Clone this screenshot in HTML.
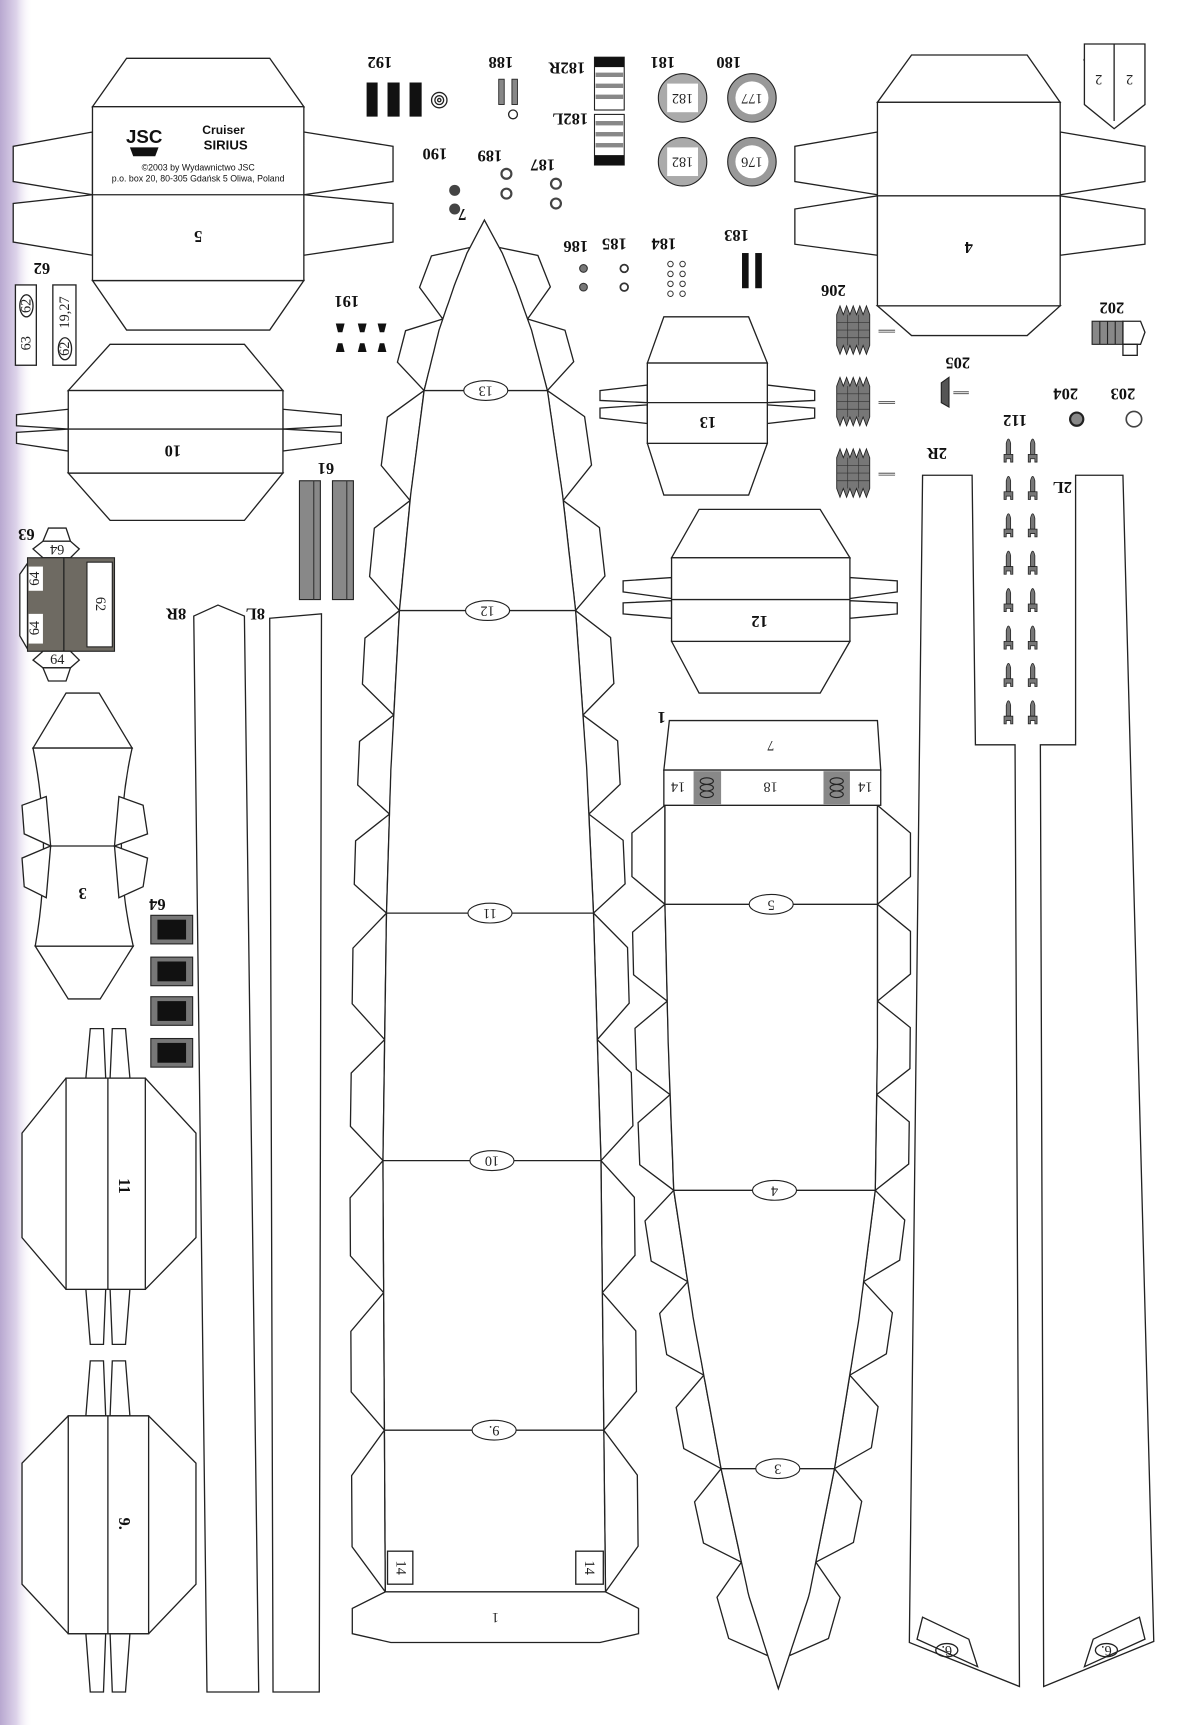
<!DOCTYPE html>
<html><head><meta charset="utf-8">
<style>
html,body{margin:0;padding:0;background:#fff;}
svg{display:block;}
.l{fill:none;stroke:#222;stroke-width:1.2;}
.w{fill:#fff;stroke:#222;stroke-width:1.2;}
.t{font-family:"Liberation Serif",serif;font-weight:bold;font-size:15px;fill:#111;text-anchor:middle;dominant-baseline:central;}
.n{font-family:"Liberation Serif",serif;font-size:13px;fill:#222;text-anchor:middle;dominant-baseline:central;}
.s{font-family:"Liberation Sans",sans-serif;fill:#111;text-anchor:middle;}
</style></head>
<body>
<svg id="sv" width="1200" height="1725" viewBox="0 0 1090 1568" preserveAspectRatio="none" xmlns="http://www.w3.org/2000/svg">
<defs>
<linearGradient id="edge" x1="0" x2="1" y1="0" y2="0">
<stop offset="0" stop-color="#b8a8d0"/><stop offset="0.5" stop-color="#ddd3ea"/><stop offset="1" stop-color="#fff" stop-opacity="0"/>
</linearGradient>
</defs>
<rect x="0" y="0" width="1090" height="1568" fill="#fff"/>
<rect x="0" y="0" width="30" height="1568" fill="url(#edge)"/>

<!-- Part 5 -->
<polygon class="w" points="84,97 115,53 245,53 276,97"/>
<polygon class="w" points="84,255 115,300 245,300 276,255"/>
<polygon class="w" points="84,120 12,133 12,165 84,177"/>
<polygon class="w" points="84,177 12,185 12,220 84,232"/>
<polygon class="w" points="276,120 357,133 357,165 276,177"/>
<polygon class="w" points="276,177 357,185 357,220 276,232"/>
<rect class="w" x="84" y="97" width="192" height="158"/>
<line class="l" x1="84" y1="177" x2="276" y2="177"/>
<text class="s" x="131" y="130" font-size="17" font-weight="bold">JSC</text>
<path d="M118,134 h26 l-3,8 h-20 z" fill="#111"/>
<text class="s" x="203" y="122" font-size="11" font-weight="bold">Cruiser</text>
<text class="s" x="205" y="136" font-size="12" font-weight="bold">SIRIUS</text>
<text class="s" x="180" y="155" font-size="8">©2003 by Wydawnictwo JSC</text>
<text class="s" x="180" y="165" font-size="8">p.o. box 20, 80-305 Gdańsk 5 Oliwa, Poland</text>
<text class="t" transform="translate(180,215) rotate(180)">5</text>

<!-- Part 10 -->
<polygon class="w" points="62,355 100,313 222,313 257,355"/>
<polygon class="w" points="62,430 100,473 222,473 257,430"/>
<polygon class="w" points="62,372 15,377 15,387 62,390"/>
<polygon class="w" points="62,390 15,393 15,403 62,410"/>
<polygon class="w" points="257,372 310,377 310,387 257,390"/>
<polygon class="w" points="257,390 310,393 310,403 257,410"/>
<rect class="w" x="62" y="355" width="195" height="75"/>
<line class="l" x1="62" y1="390" x2="257" y2="390"/>
<text class="t" transform="translate(157,410) rotate(180)">10</text>

<!-- 62 labels -->
<text class="t" transform="translate(38,244) rotate(180)">62</text>
<rect class="w" x="14" y="259" width="19" height="73"/>
<text class="n" transform="translate(24,312) rotate(-90)">63</text>
<ellipse class="l" cx="24" cy="278" rx="6" ry="10"/>
<text class="n" transform="translate(24,278) rotate(-90)" font-size="11">62</text>
<rect class="w" x="48" y="259" width="21" height="73"/>
<text class="n" transform="translate(59,284) rotate(-90)">19,27</text>
<ellipse class="l" cx="59" cy="317" rx="6" ry="10"/>
<text class="n" transform="translate(59,317) rotate(-90)" font-size="11">62</text>

<!-- 63/64 block -->
<text class="t" transform="translate(24,486) rotate(180)">63</text>
<polygon class="w" points="39,492 44,480 60,480 64,492"/>
<polygon class="w" points="39,492 30,499 39,507 64,507 72,499 64,492"/>
<text class="n" transform="translate(52,499) rotate(180)">64</text>
<polygon class="w" points="25,512 18,522 18,578 25,590"/>
<rect x="25" y="507" width="79" height="85" fill="#6e6a62" stroke="#222"/>
<rect x="26" y="515" width="13" height="22" fill="#fff"/>
<rect x="26" y="558" width="13" height="27" fill="#fff"/>
<text class="n" transform="translate(32,526) rotate(-90)" font-size="11">64</text>
<text class="n" transform="translate(32,571) rotate(-90)" font-size="11">64</text>
<line class="l" x1="58" y1="507" x2="58" y2="592"/>
<rect x="79" y="511" width="23" height="77" fill="#fff" stroke="#222"/>
<text class="n" transform="translate(91,549) rotate(90)">62</text>
<polygon class="w" points="39,592 30,600 39,607 64,607 72,600 64,592"/>
<polygon class="w" points="39,607 44,619 60,619 64,607"/>
<text class="n" x="52" y="600">64</text>

<!-- Part 3 -->
<polygon class="w" points="30,680 60,630 90,630 120,680"/>
<polygon class="w" points="32,860 62,908 91,908 121,860"/>
<path class="w" d="M30,680 Q48,770 32,860 L121,860 Q100,770 120,680 Z"/>
<line class="l" x1="46" y1="769" x2="104" y2="769"/>
<polygon class="w" points="42,724 20,732 22,758 46,769"/>
<polygon class="w" points="46,769 20,780 22,806 42,816"/>
<polygon class="w" points="108,724 130,732 134,758 104,769"/>
<polygon class="w" points="104,769 134,780 130,806 108,816"/>
<text class="t" transform="translate(75,812) rotate(180)">3</text>

<!-- 64 small parts -->
<text class="t" transform="translate(143,822) rotate(180)">64</text>
<g id="b64">
<rect x="137" y="832" width="38" height="26" fill="#777" stroke="#222"/>
<rect x="143" y="836" width="26" height="18" fill="#111"/>
</g>
<use href="#b64" y="38"/><use href="#b64" y="74"/><use href="#b64" y="112"/>

<!-- Part 11 -->
<polygon class="w" points="78,980 82,935 94,935 96,980"/>
<polygon class="w" points="100,980 102,935 114,935 118,980"/>
<polygon class="w" points="78,1172 82,1222 94,1222 96,1172"/>
<polygon class="w" points="100,1172 102,1222 114,1222 118,1172"/>
<polygon class="w" points="60,980 20,1030 20,1125 60,1172 132,1172 178,1125 178,1030 132,980"/>
<rect class="w" x="60" y="980" width="72" height="192"/>
<line class="l" x1="98" y1="980" x2="98" y2="1172"/>
<text class="t" transform="translate(113,1078) rotate(90)">11</text>

<!-- Part 9 -->
<polygon class="w" points="78,1287 82,1237 94,1237 96,1287"/>
<polygon class="w" points="100,1287 102,1237 114,1237 118,1287"/>
<polygon class="w" points="78,1485 82,1538 94,1538 96,1485"/>
<polygon class="w" points="100,1485 102,1538 114,1538 118,1485"/>
<polygon class="w" points="62,1287 20,1330 20,1440 62,1485 135,1485 178,1440 178,1330 135,1287"/>
<rect class="w" x="62" y="1287" width="73" height="198"/>
<line class="l" x1="98" y1="1287" x2="98" y2="1485"/>
<text class="t" transform="translate(113,1385) rotate(90)">9.</text>

<!-- 8R 8L -->
<text class="t" transform="translate(160,558) rotate(180)">8R</text>
<text class="t" transform="translate(232,558) rotate(180)">8L</text>
<polygon class="w" points="176,560 198,550 222,560 235,1538 188,1538"/>
<polygon class="w" points="245,562 292,558 290,1538 248,1538"/>

<!-- 61 -->
<text class="t" transform="translate(296,426) rotate(180)">61</text>
<rect x="272" y="437" width="19" height="108" fill="#888" stroke="#222"/>
<rect x="302" y="437" width="19" height="108" fill="#888" stroke="#222"/>
<line x1="285" y1="437" x2="285" y2="545" stroke="#333"/>
<line x1="315" y1="437" x2="315" y2="545" stroke="#333"/>

<!-- small parts top -->
<text class="t" transform="translate(345,57) rotate(180)">192</text>
<rect x="333" y="75" width="10" height="31" fill="#111"/>
<rect x="352" y="75" width="11" height="31" fill="#111"/>
<rect x="372" y="75" width="11" height="31" fill="#111"/>
<circle class="l" cx="399" cy="91" r="7"/><circle class="l" cx="399" cy="91" r="4"/><circle class="l" cx="399" cy="91" r="1.5"/>
<text class="t" transform="translate(455,57) rotate(180)">188</text>
<rect x="453" y="72" width="5" height="23" fill="#888" stroke="#222" stroke-width="0.8"/>
<rect x="465" y="72" width="5" height="23" fill="#888" stroke="#222" stroke-width="0.8"/>
<circle class="l" cx="466" cy="104" r="4"/>
<text class="t" transform="translate(515,62) rotate(180)">182R</text>
<text class="t" transform="translate(518,108) rotate(180)">182L</text>
<rect x="540" y="52" width="27" height="48" fill="#fff" stroke="#222"/>
<rect x="540" y="52" width="27" height="9" fill="#111"/>
<rect x="540" y="104" width="27" height="46" fill="#fff" stroke="#222"/>
<rect x="540" y="141" width="27" height="9" fill="#111"/>
<g fill="#888"><rect x="541" y="66" width="25" height="4"/><rect x="541" y="76" width="25" height="4"/><rect x="541" y="86" width="25" height="4"/><rect x="541" y="110" width="25" height="4"/><rect x="541" y="120" width="25" height="4"/><rect x="541" y="130" width="25" height="4"/></g>
<text class="t" transform="translate(602,57) rotate(180)">181</text>
<text class="t" transform="translate(662,57) rotate(180)">180</text>
<g>
<circle cx="620" cy="89" r="22" fill="#aaa" stroke="#222"/><rect x="606" y="76" width="28" height="26" fill="#fff"/>
<text class="n" transform="translate(620,89) rotate(180)">182</text>
<circle cx="683" cy="89" r="22" fill="#999" stroke="#222"/><circle cx="683" cy="89" r="15" fill="#fff"/>
<text class="n" transform="translate(683,89) rotate(180)">177</text>
<circle cx="620" cy="147" r="22" fill="#aaa" stroke="#222"/><rect x="606" y="134" width="28" height="26" fill="#fff"/>
<text class="n" transform="translate(620,147) rotate(180)">182</text>
<circle cx="683" cy="147" r="22" fill="#999" stroke="#222"/><circle cx="683" cy="147" r="15" fill="#fff"/>
<text class="n" transform="translate(683,147) rotate(180)">176</text>
</g>
<text class="t" transform="translate(395,140) rotate(180)">190</text>
<text class="t" transform="translate(445,142) rotate(180)">189</text>
<text class="t" transform="translate(493,150) rotate(180)">187</text>
<circle cx="413" cy="173" r="5" fill="#444"/><circle cx="413" cy="190" r="5" fill="#444"/>
<circle cx="460" cy="158" r="4.5" fill="none" stroke="#444" stroke-width="2"/><circle cx="460" cy="176" r="4.5" fill="none" stroke="#444" stroke-width="2"/>
<circle cx="505" cy="167" r="4.5" fill="none" stroke="#444" stroke-width="2"/><circle cx="505" cy="185" r="4.5" fill="none" stroke="#444" stroke-width="2"/>
<text class="t" transform="translate(420,195) rotate(180)">7</text>
<text class="t" transform="translate(523,224) rotate(180)">186</text>
<text class="t" transform="translate(558,222) rotate(180)">185</text>
<text class="t" transform="translate(603,222) rotate(180)">184</text>
<text class="t" transform="translate(669,214) rotate(180)">183</text>
<circle cx="530" cy="244" r="3.5" fill="#777" stroke="#333"/><circle cx="530" cy="261" r="3.5" fill="#777" stroke="#333"/>
<circle cx="567" cy="244" r="3.5" fill="none" stroke="#333" stroke-width="1.6"/><circle cx="567" cy="261" r="3.5" fill="none" stroke="#333" stroke-width="1.6"/>
<g fill="none" stroke="#333" stroke-width="0.9">
<circle cx="609" cy="240" r="2.5"/><circle cx="609" cy="249" r="2.5"/><circle cx="609" cy="258" r="2.5"/><circle cx="609" cy="267" r="2.5"/>
<circle cx="620" cy="240" r="2.5"/><circle cx="620" cy="249" r="2.5"/><circle cx="620" cy="258" r="2.5"/><circle cx="620" cy="267" r="2.5"/>
</g>
<rect x="674" y="230" width="6" height="32" fill="#111"/><rect x="686" y="230" width="6" height="32" fill="#111"/>
<text class="t" transform="translate(315,274) rotate(180)">191</text>
<g fill="#111">
<polygon points="305,294 313,294 311,302 307,302"/><polygon points="325,294 333,294 331,302 327,302"/><polygon points="343,294 351,294 349,302 345,302"/>
<polygon points="307,312 311,312 313,320 305,320"/><polygon points="327,312 331,312 333,320 325,320"/><polygon points="345,312 349,312 351,320 343,320"/>
</g>

<!-- Part 4 -->
<polygon class="w" points="797,93 828,50 933,50 963,93"/>
<polygon class="w" points="797,278 828,305 933,305 963,278"/>
<polygon class="w" points="797,120 722,133 722,165 797,177"/>
<polygon class="w" points="797,178 722,190 722,222 797,232"/>
<polygon class="w" points="963,120 1040,133 1040,165 963,177"/>
<polygon class="w" points="963,178 1040,190 1040,222 963,232"/>
<rect class="w" x="797" y="93" width="166" height="185"/>
<line class="l" x1="797" y1="178" x2="963" y2="178"/>
<text class="t" transform="translate(880,225) rotate(180)">4</text>

<!-- 6. part -->
<text class="t" transform="translate(989,58) rotate(180)">6.</text>
<polygon class="w" points="985,40 1040,40 1040,95 1012,117 985,95"/>
<line class="l" x1="1012" y1="40" x2="1012" y2="110"/>
<text class="n" transform="translate(998,72) rotate(180)">2</text>
<text class="n" transform="translate(1026,72) rotate(180)">2</text>

<!-- 206 etc -->
<text class="t" transform="translate(757,264) rotate(180)">206</text>
<g id="s206">
<polygon points="760,286 763,278 766,286 769,278 772,286 775,278 778,286 781,278 784,286 787,278 790,286 790,314 787,322 784,314 781,322 778,314 775,322 772,314 769,322 766,314 763,322 760,314" fill="#777" stroke="#222" stroke-width="0.8"/>
<g stroke="#333" stroke-width="0.6"><line x1="760" y1="293" x2="790" y2="293"/><line x1="760" y1="300" x2="790" y2="300"/><line x1="760" y1="307" x2="790" y2="307"/><line x1="770" y1="286" x2="770" y2="314"/><line x1="780" y1="286" x2="780" y2="314"/></g>
<line x1="798" y1="301" x2="813" y2="301" stroke="#333" stroke-width="2.5"/><line x1="798" y1="301" x2="813" y2="301" stroke="#fff" stroke-width="1"/>
</g>
<use href="#s206" y="65"/><use href="#s206" y="130"/>
<text class="t" transform="translate(870,330) rotate(180)">205</text>
<polygon points="855,348 862,343 862,370 855,366" fill="#555" stroke="#222"/>
<line x1="866" y1="357" x2="880" y2="357" stroke="#333" stroke-width="2.5"/><line x1="866" y1="357" x2="880" y2="357" stroke="#fff" stroke-width="1"/>
<text class="t" transform="translate(968,358) rotate(180)">204</text>
<circle cx="978" cy="381" r="6" fill="#888" stroke="#222" stroke-width="2"/>
<text class="t" transform="translate(1020,358) rotate(180)">203</text>
<circle cx="1030" cy="381" r="7" fill="#fff" stroke="#444" stroke-width="1.5"/>
<text class="t" transform="translate(1010,280) rotate(180)">202</text>
<rect x="992" y="292" width="28" height="21" fill="#888" stroke="#222"/>
<line x1="999" y1="292" x2="999" y2="313" stroke="#222"/><line x1="1006" y1="292" x2="1006" y2="313" stroke="#222"/><line x1="1013" y1="292" x2="1013" y2="313" stroke="#222"/>
<polygon class="w" points="1020,292 1036,292 1040,302 1036,313 1020,313"/>
<rect class="w" x="1020" y="313" width="13" height="10"/>

<!-- Part 13 -->
<polygon class="w" points="588,330 603,288 680,288 697,330"/>
<polygon class="w" points="588,403 603,450 680,450 697,403"/>
<polygon class="w" points="588,350 545,355 545,364 588,366"/>
<polygon class="w" points="588,368 545,371 545,380 588,385"/>
<polygon class="w" points="697,350 740,355 740,364 697,366"/>
<polygon class="w" points="697,368 740,371 740,380 697,385"/>
<rect class="w" x="588" y="330" width="109" height="73"/>
<line class="l" x1="588" y1="366" x2="697" y2="366"/>
<text class="t" transform="translate(643,384) rotate(180)">13</text>

<!-- Part 12 -->
<polygon class="w" points="610,507 635,463 745,463 772,507"/>
<polygon class="w" points="610,583 635,630 745,630 772,583"/>
<polygon class="w" points="610,525 566,528 566,538 610,544"/>
<polygon class="w" points="610,546 566,548 566,558 610,562"/>
<polygon class="w" points="772,525 815,528 815,538 772,544"/>
<polygon class="w" points="772,546 815,548 815,558 772,562"/>
<rect class="w" x="610" y="507" width="162" height="76"/>
<line class="l" x1="610" y1="545" x2="772" y2="545"/>
<text class="t" transform="translate(690,565) rotate(180)">12</text>

<!-- 2R 2L -->
<text class="t" transform="translate(851,412) rotate(180)">2R</text>
<text class="t" transform="translate(965,443) rotate(180)">2L</text>
<polygon class="w" points="838,432 883,432 886,677 922,677 926,1533 826,1493"/>
<polygon class="w" points="977,432 1020,432 1048,1492 948,1533 945,677 977,677"/>
<polygon class="l" points="833,1490 838,1470 880,1490 888,1515"/>
<ellipse class="l" cx="860" cy="1500" rx="10" ry="6"/>
<text class="n" transform="translate(860,1500) rotate(180)" font-size="10">6.</text>
<polygon class="l" points="1040,1490 1035,1470 993,1490 985,1515"/>
<ellipse class="l" cx="1005" cy="1500" rx="10" ry="6"/>
<text class="n" transform="translate(1005,1500) rotate(180)" font-size="10">6.</text>
<text class="t" transform="translate(922,382) rotate(180)">112</text>
<g id="msl">
<g fill="#777" stroke="#222" stroke-width="0.7">
<path d="M914,403 q2,-8 4,0 v10 h-4 z"/><path d="M912,413 h8 v7 h-2 v-3 h-4 v3 h-2 z"/>
<path d="M936,403 q2,-8 4,0 v10 h-4 z"/><path d="M934,413 h8 v7 h-2 v-3 h-4 v3 h-2 z"/>
</g></g>
<use href="#msl" y="34"/><use href="#msl" y="68"/><use href="#msl" y="102"/><use href="#msl" y="136"/><use href="#msl" y="170"/><use href="#msl" y="204"/><use href="#msl" y="238"/>

<g id="hulls"></g>

<!-- Hull 7 base and labels -->
<polygon class="w" points="350,1447 320,1462 320,1485 355,1493 545,1493 580,1485 580,1462 550,1447"/>
<text class="n" transform="translate(450,1470) rotate(180)" font-size="15">1</text>
<rect class="w" x="352" y="1410" width="23" height="30"/>
<text class="n" transform="translate(364,1425) rotate(90)">14</text>
<rect class="w" x="523" y="1410" width="25" height="30"/>
<text class="n" transform="translate(535,1425) rotate(90)">14</text>

<!-- Hull 1 top -->
<text class="t" transform="translate(601,652) rotate(180)">1</text>
<polygon class="w" points="608,655 797,655 800,700 603,700"/>
<rect class="w" x="603" y="700" width="197" height="32"/>
<rect x="630" y="701" width="25" height="30" fill="#888"/>
<rect x="748" y="701" width="24" height="30" fill="#888"/>
<g fill="none" stroke="#222"><ellipse cx="642" cy="710" rx="6" ry="3"/><ellipse cx="642" cy="716" rx="6" ry="3"/><ellipse cx="642" cy="722" rx="6" ry="3"/>
<ellipse cx="760" cy="710" rx="6" ry="3"/><ellipse cx="760" cy="716" rx="6" ry="3"/><ellipse cx="760" cy="722" rx="6" ry="3"/></g>
<text class="n" transform="translate(700,677) rotate(180)" font-size="15">7</text>
<text class="n" transform="translate(616,715) rotate(180)">14</text>
<text class="n" transform="translate(700,715) rotate(180)">18</text>
<text class="n" transform="translate(786,715) rotate(180)">14</text>
</svg>
<script>
(function(){
var NS="http://www.w3.org/2000/svg",g=document.getElementById("hulls");
function el(n,a){var e=document.createElementNS(NS,n);for(var k in a)e.setAttribute(k,a[k]);g.appendChild(e);return e;}
function interp(tab,y){for(var i=0;i<tab.length-1;i++){if(y>=tab[i][0]&&y<=tab[i+1][0]){var t=(y-tab[i][0])/(tab[i+1][0]-tab[i][0]);return [tab[i][1]+t*(tab[i+1][1]-tab[i][1]),tab[i][2]+t*(tab[i+1][2]-tab[i][2])];}}return [tab[tab.length-1][1],tab[tab.length-1][2]];}
function flaps(tab,ys,d){
 for(var side=0;side<2;side++){
  for(var i=0;i<ys.length-1;i++){
   var a=interp(tab,ys[i]),b=interp(tab,ys[i+1]);
   var p1=[a[side],ys[i]],p2=[b[side],ys[i+1]];
   var dx=p2[0]-p1[0],dy=p2[1]-p1[1],L=Math.hypot(dx,dy),tx=dx/L,ty=dy/L;
   var nx=ty,ny=-tx; if(side==0){nx=-nx;ny=-ny;} if((side==0&&nx>0)||(side==1&&nx<0)){nx=-nx;ny=-ny;}
   var c=L*0.28;
   var pts=[p1,[p1[0]+nx*d+tx*c,p1[1]+ny*d+ty*c],[p2[0]+nx*d-tx*c,p2[1]+ny*d-ty*c],p2];
   el("polygon",{"class":"w",points:pts.map(function(p){return p[0].toFixed(1)+","+p[1].toFixed(1)}).join(" ")});
  }
 }
}
function body(tab,top){
 var L=[],R=[];
 for(var y=tab[0][0];y<=tab[tab.length-1][0];y+=5){var v=interp(tab,y);L.push(v[0].toFixed(1)+","+y);R.unshift(v[1].toFixed(1)+","+y);}
 var v=interp(tab,tab[tab.length-1][0]);L.push(v[0]+","+tab[tab.length-1][0]);R.unshift(v[1]+","+tab[tab.length-1][0]);
 el("polygon",{"class":"w",points:L.concat(R).join(" ")});
}
function cross(tab,y,lab){var v=interp(tab,y);el("line",{"class":"l",x1:v[0],y1:y,x2:v[1],y2:y});var cx=(v[0]+v[1])/2;
 el("ellipse",{cx:cx,cy:y,rx:20,ry:9,fill:"#fff",stroke:"#222","stroke-width":1});
 var t=el("text",{"class":"n",transform:"translate("+cx+","+y+") rotate(180)"});t.textContent=lab;}
// Hull 7
var c7=function(y,w){var c=440+10*(y-200)/1247;return [y,c-w,c+w];};
var h7=[[200,0],[230,16],[260,28],[300,42],[355,56],[450,69],[555,80],[700,89],[830,94],[1055,99],[1447,100]].map(function(a){return c7(a[0],a[1]);});
flaps(h7,[225,290,355,455,555,650,740,830,945,1055,1175,1300,1447],30);
body(h7);
cross(h7,355,"13");cross(h7,555,"12");cross(h7,830,"11");cross(h7,1055,"10");cross(h7,1300,"9.");
// Hull 1
var h1=[[732,604,797],[822,604,797],[950,607,797],[1082,612,795],[1200,630,780],[1335,655,758],[1450,680,735],[1535,707,707]];
flaps(h1,[732,822,910,995,1082,1165,1250,1335,1420,1505],30);
body(h1);
cross(h1,822,"5");cross(h1,1082,"4");cross(h1,1335,"3");
})();
</script>
</body></html>
